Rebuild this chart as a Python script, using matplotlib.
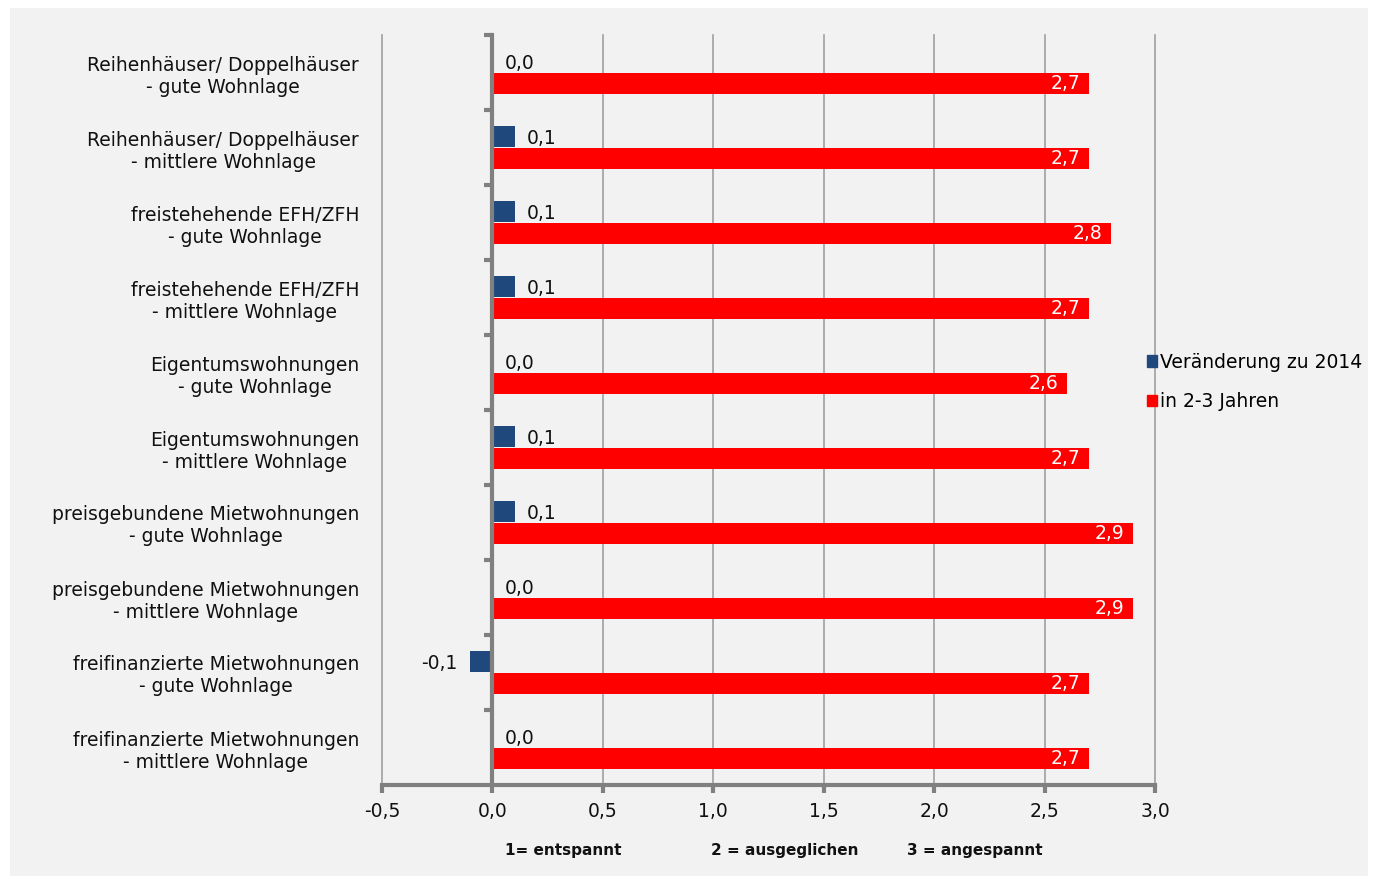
import matplotlib
matplotlib.use('Agg')
import matplotlib.pyplot as plt
from matplotlib.patches import Rectangle, Patch
from matplotlib.ticker import FixedLocator

categories = [
    "Reihenhäuser/ Doppelhäuser\n- gute Wohnlage",
    "Reihenhäuser/ Doppelhäuser\n- mittlere Wohnlage",
    "freistehehende EFH/ZFH\n- gute Wohnlage",
    "freistehehende EFH/ZFH\n- mittlere Wohnlage",
    "Eigentumswohnungen\n- gute Wohnlage",
    "Eigentumswohnungen\n- mittlere Wohnlage",
    "preisgebundene Mietwohnungen\n- gute Wohnlage",
    "preisgebundene Mietwohnungen\n- mittlere Wohnlage",
    "freifinanzierte Mietwohnungen\n- gute Wohnlage",
    "freifinanzierte Mietwohnungen\n- mittlere Wohnlage",
]
change_2014 = [0.0, 0.1, 0.1, 0.1, 0.0, 0.1, 0.1, 0.0, -0.1, 0.0]
in_2_3_years = [2.7, 2.7, 2.8, 2.7, 2.6, 2.7, 2.9, 2.9, 2.7, 2.7]
xticks = [-0.5, 0.0, 0.5, 1.0, 1.5, 2.0, 2.5, 3.0]
scale_notes = ["1= entspannt", "2 = ausgeglichen", "3 = angespannt"]

BLUE = '#1f497d'
RED = '#ff0000'
BG = '#f2f2f2'
GRID = '#a0a0a0'
AXIS = '#808080'
FS = 13.5

plt.rcParams['font.family'] = ['DejaVu Sans']

fig = plt.figure(figsize=(13.75, 8.77), dpi=100)
fig.patch.set_facecolor('white')
fig.patches.append(Rectangle((10 / 1375, 1 - 876 / 877), 1358 / 1375, 868 / 877,
                             transform=fig.transFigure, facecolor=BG,
                             edgecolor='none', zorder=-10))

ax = fig.add_axes([382 / 1375, 1 - 785 / 877, (1155 - 382) / 1375, 750 / 877])
ax.set_facecolor(BG)

y = list(range(len(categories)))
h = 0.29
off = 0.147
yb = [v - off for v in y]
yr = [v + off for v in y]
ax.barh(yb, change_2014, height=h, color=BLUE, zorder=3, label='Veränderung zu 2014')
ax.barh(yr, in_2_3_years, height=h, color=RED, zorder=3, label='in 2-3 Jahren')

def fmt(v):
    return f"{v:.1f}".replace('.', ',')

for yy, v in zip(yb, change_2014):
    if v < 0:
        ax.annotate(fmt(v), (v, yy), xytext=(-9, -1.5), textcoords='offset points',
                    ha='right', va='center', fontsize=FS, color='#111111', zorder=4)
    else:
        ax.annotate(fmt(v), (v, yy), xytext=(9, -1.5), textcoords='offset points',
                    ha='left', va='center', fontsize=FS, color='#111111', zorder=4)
for yy, v in zip(yr, in_2_3_years):
    ax.annotate(fmt(v), (v, yy), xytext=(-6, 0), textcoords='offset points',
                ha='right', va='center', fontsize=FS, color='white', zorder=4)

ax.set_xlim(-0.5, 3.0)
ax.set_ylim(len(categories) - 0.5, -0.5)
ax.set_xticks(xticks)
ax.set_xticklabels([fmt(t) for t in xticks], fontsize=FS, color='#111111')
ax.grid(axis='x', color=GRID, linewidth=1.2, zorder=0)
for gl in ax.get_xgridlines():
    gl.set_clip_on(False)
ax.set_axisbelow(True)

for s in ['top', 'right']:
    ax.spines[s].set_visible(False)
ax.spines['left'].set_position(('data', 0))
ax.spines['left'].set_color(AXIS)
ax.spines['left'].set_linewidth(3)
ax.spines['left'].set_zorder(5)
ax.spines['bottom'].set_color(AXIS)
ax.spines['bottom'].set_linewidth(3)

ax.tick_params(axis='x', direction='out', length=6, width=3, color=AXIS, pad=6)
ax.set_yticks(y)
ax.set_yticklabels(categories, fontsize=FS, color='#111111')
for lbl in ax.get_yticklabels():
    lbl.set_multialignment('center')
ax.tick_params(axis='y', which='major', length=0, pad=96)
ax.yaxis.set_minor_locator(FixedLocator([v - 0.5 for v in range(len(categories))]))
ax.tick_params(axis='y', which='minor', direction='out', length=6, width=3, color=AXIS)

ax.legend(handles=[Patch(color=BLUE, label='Veränderung zu 2014'),
                   Patch(color=RED, label='in 2-3 Jahren')],
          loc='upper left', bbox_to_anchor=(1139 / 1375, 1 - 345 / 877),
          bbox_transform=fig.transFigure, frameon=False, fontsize=FS,
          handlelength=0.55, handleheight=0.55, handletextpad=0.15,
          labelspacing=1.1, borderaxespad=0)

note_x = [563, 785, 975]
for nx, txt in zip(note_x, scale_notes):
    fig.text(nx / 1375, 1 - 851 / 877, txt, ha='center', va='center',
             fontsize=11, fontweight='bold', color='#111111',
             family=['Liberation Sans Narrow', 'DejaVu Sans'])

fig.savefig('out.png', dpi=100, facecolor='white')
